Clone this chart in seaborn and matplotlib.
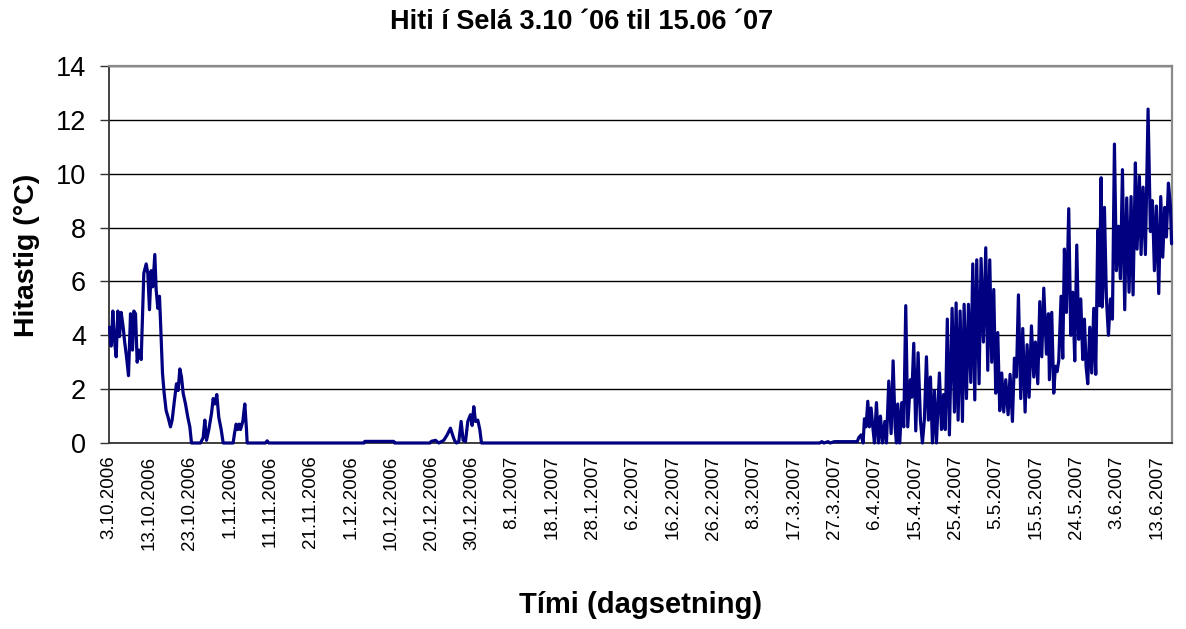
import numpy as np
import pandas as pd
import matplotlib
matplotlib.use("Agg")
import matplotlib.pyplot as plt
import seaborn as sns

# ---- data (day offset from 3.10.2006, temperature in °C) ----
autumn_day = [0.12, 0.52, 0.92, 1.32, 1.72, 2.12, 2.52, 2.92, 3.40, 3.72, 4.20, 4.68, 5.16, 5.64, 5.96,
              6.36, 6.76, 7.16, 7.72, 8.35, 8.92, 9.31, 9.71, 10.11, 10.51, 10.99, 11.31, 11.71, 12.11,
              12.35, 12.83, 13.23, 13.71, 14.19, 14.75, 15.15, 15.71, 16.19, 16.59, 16.99, 17.39, 17.79,
              18.35, 18.91, 19.39, 19.79, 21.95, 22.59, 22.99, 23.39, 23.95, 24.59, 24.99, 25.38, 25.86,
              26.34, 26.91, 27.39, 29.78, 30.10, 30.50, 30.90, 31.22, 31.54, 32.10, 32.58, 32.98, 33.14,
              37.54, 37.94, 38.34]
autumn_temp = [4.3, 3.6, 4.9, 3.8, 3.2, 4.9, 3.95, 4.85, 4.3, 3.8, 3.2, 2.5, 4.8, 3.45, 4.9,
               4.8, 3.0, 3.45, 3.1, 6.3, 6.65, 6.3, 4.95, 6.4, 5.8, 7.0, 5.7, 5.0, 5.45,
               4.55, 2.6, 1.85, 1.2, 0.95, 0.6, 0.85, 1.6, 2.2, 1.95, 2.75, 2.45, 1.85,
               1.45, 0.95, 0.6, 0, 0, 0.2, 0.85, 0.1, 0.5, 1.1, 1.65, 1.45, 1.8,
               0.95, 0.5, 0, 0, 0.35, 0.7, 0.5, 0.7, 0.5, 0.8, 1.45, 0.5, 0,
               0, 0.08, 0]

winter_day = [61.2, 61.36, 68.3, 68.5, 77.0, 77.28, 78.32, 79.11, 80.31, 81.11, 81.91, 82.31, 82.87,
              83.35, 83.91, 84.47, 84.95, 85.51, 86.07, 86.71, 87.11, 87.51, 87.91, 88.47, 88.95, 89.35,
              170.5, 171.0, 171.5, 172.5, 173.0, 174.0, 175.0, 176.5, 178.0, 179.5]
winter_temp = [0, 0.06, 0.06, 0, 0, 0.06, 0.1, 0, 0.1, 0.3, 0.55, 0.35, 0.1,
               0, 0.05, 0.8, 0.1, 0.05, 0.8, 1.05, 0.65, 1.35, 0.8, 0.85, 0.5, 0,
               0, 0.05, 0, 0.05, 0, 0.05, 0.05, 0.05, 0.05, 0.05]

april_day = [179.86, 180.42, 180.90, 181.22, 181.62, 182.02, 182.42, 182.82, 183.22, 183.62, 184.10,
             184.58, 185.06, 185.54, 186.10, 186.50, 187.06, 187.62, 188.10, 188.58, 188.90, 189.21,
             189.69, 190.17, 190.65, 191.13, 191.61, 192.25, 192.57, 193.05, 193.53, 194.09, 194.65,
             195.13, 195.61, 196.09, 196.57, 197.05, 197.53, 198.01, 198.49, 199.2, 199.7, 200.2,
             200.6, 201.1, 201.6]
april_temp = [0.2, 0.3, 0, 0.9, 0.6, 1.55, 0.6, 1.3, 0.6, 0, 1.5,
              0, 1.0, 0, 0.8, 0, 2.3, 0.35, 3.05, 0.6, 0, 1.45,
              0, 1.5, 0.6, 5.1, 0.6, 2.35, 1.7, 3.7, 0.45, 3.35, 0.85,
              0, 0.9, 3.2, 0.85, 2.45, 0, 1.95, 0, 2.6, 0.5, 1.8,
              0.5, 4.6, 0.3]

may_day = [202.25, 202.81, 203.21, 203.69, 204.17, 204.73, 205.13, 205.69, 206.17, 206.73, 207.21,
           207.69, 208.16, 208.72, 209.20, 209.76, 210.32, 210.80, 211.28, 211.76, 212.24, 212.72,
           213.20, 213.68, 214.16, 214.64, 215.12, 215.68, 216.16, 216.72, 217.20, 217.68, 218.16,
           218.72, 219.20, 219.76, 220.24, 220.72, 221.28, 221.84, 222.24, 222.80, 223.28, 223.76,
           224.24, 224.88, 225.36]
may_temp = [5.0, 1.15, 5.2, 0.85, 4.9, 0.8, 5.15, 1.65, 5.15, 2.25, 6.65,
            1.6, 6.8, 2.2, 6.85, 3.75, 7.25, 2.7, 6.8, 3.0, 5.7, 1.85,
            4.1, 1.2, 2.6, 1.15, 2.35, 1.05, 2.55, 0.8, 3.15, 2.45, 5.5,
            1.65, 4.25, 1.15, 3.65, 1.7, 4.35, 2.45, 3.75, 2.2, 5.25, 3.2,
            5.75, 3.3, 4.8]

late_may_day = [225.59, 226.15, 226.63, 227.03, 227.43, 227.83, 228.39, 228.79, 229.19, 229.67,
                230.23, 230.71, 231.19, 231.67, 232.15, 232.63, 233.11, 233.59, 233.99, 234.39,
                234.79, 235.27, 235.75, 236.23, 236.71, 237.19, 237.55]
late_may_temp = [2.35, 4.85, 1.85, 2.85, 2.65, 3.05, 5.45, 3.15, 7.2, 4.85,
                 8.7, 4.0, 5.6, 3.05, 7.35, 3.85, 5.35, 3.1, 4.6, 2.85,
                 2.2, 4.3, 2.6, 5.0, 2.55, 7.9, 5.1]

june_day = [238.0, 238.25, 238.5, 238.79, 239.27, 239.75, 240.23, 240.71, 241.19, 241.67, 242.15,
            242.63, 243.11, 243.66, 244.14, 244.70, 245.18, 245.66, 246.22, 246.62, 247.18, 247.58,
            248.06, 248.62, 249.26, 249.82, 250.30, 250.78, 251.26, 251.82, 252.30, 252.78, 253.26,
            253.66, 254.14, 254.62, 254.9]
june_temp = [9.85, 5.05, 6.05, 8.75, 5.35, 4.0, 5.35, 4.6, 11.1, 6.4, 8.05,
             6.1, 10.15, 4.95, 9.1, 5.6, 9.15, 5.5, 10.4, 7.2, 9.9, 7.0,
             9.5, 7.0, 12.4, 7.85, 9.0, 6.4, 8.8, 5.55, 9.15, 6.9, 8.75,
             7.65, 9.65, 8.8, 7.4]

tick_labels = ["3.10.2006", "13.10.2006", "23.10.2006", "1.11.2006", "11.11.2006", "21.11.2006",
               "1.12.2006", "10.12.2006", "20.12.2006", "30.12.2006", "8.1.2007", "18.1.2007",
               "28.1.2007", "6.2.2007", "16.2.2007", "26.2.2007", "8.3.2007", "17.3.2007",
               "27.3.2007", "6.4.2007", "15.4.2007", "25.4.2007", "5.5.2007", "15.5.2007",
               "24.5.2007", "3.6.2007", "13.6.2007"]
y_ticks = [0, 2, 4, 6, 8, 10, 12, 14]

title = "Hiti í Selá 3.10 ´06 til 15.06 ´07"
x_label = "Tími (dagsetning)"
y_label = "Hitastig (°C)"

# ---- assemble ----
day = autumn_day + winter_day + april_day + may_day + late_may_day + june_day
temp = autumn_temp + winter_temp + april_temp + may_temp + late_may_temp + june_temp
df = pd.DataFrame({"day": day, "temp": temp})

sns.set_style("white")
plt.rcParams["font.family"] = ["Liberation Sans", "DejaVu Sans"]
plt.rcParams["text.color"] = "black"
plt.rcParams["xtick.color"] = "black"
plt.rcParams["ytick.color"] = "black"

W, H = 1186, 629
fig = plt.figure(figsize=(W / 100, H / 100), dpi=100)
ax = fig.add_axes([109 / W, 1 - 443 / H, (1172 - 109) / W, (443 - 66) / H])

sns.lineplot(data=df, x="day", y="temp", ax=ax, color="#000080", linewidth=2.3,
             estimator=None, sort=False, zorder=5, clip_on=False)

ax.set_xlim(0, 255)
ax.set_ylim(0, 14)
ax.set_yticks(y_ticks)
ax.set_yticklabels([str(v) for v in y_ticks])
step = 29 / 3
ax.set_xticks([k * step for k in range(len(tick_labels))])
ax.set_xticklabels(tick_labels, rotation=90)

ax.grid(False)
ax.yaxis.grid(True, color="black", linewidth=1.0)
ax.set_axisbelow(True)

ax.tick_params(axis="y", which="major", left=True, length=6.5, width=1.0, color="#333333",
               labelcolor="black", labelsize=19.5, pad=10)
ax.tick_params(axis="x", which="major", bottom=False, length=0, labelcolor="black",
               labelsize=13.5, pad=9)

for side in ["left", "bottom"]:
    ax.spines[side].set_color("#333333")
    ax.spines[side].set_linewidth(1.3)
for side in ["top", "right"]:
    ax.spines[side].set_color("#8a8a8a")
    ax.spines[side].set_linewidth(1.6)

ax.set_xlabel("")
ax.set_ylabel("")

fig.text(582 / W, 1 - 22 / H, title, ha="center", va="center", fontsize=19.5,
         fontweight="bold", color="black")
fig.text(641 / W, 1 - 605 / H, x_label, ha="center", va="center", fontsize=21,
         fontweight="bold", color="black")
fig.text(27 / W, 1 - 255 / H, y_label, ha="center", va="center", fontsize=20.5,
         fontweight="bold", color="black", rotation=90)

fig.savefig("out.png", dpi=100)
